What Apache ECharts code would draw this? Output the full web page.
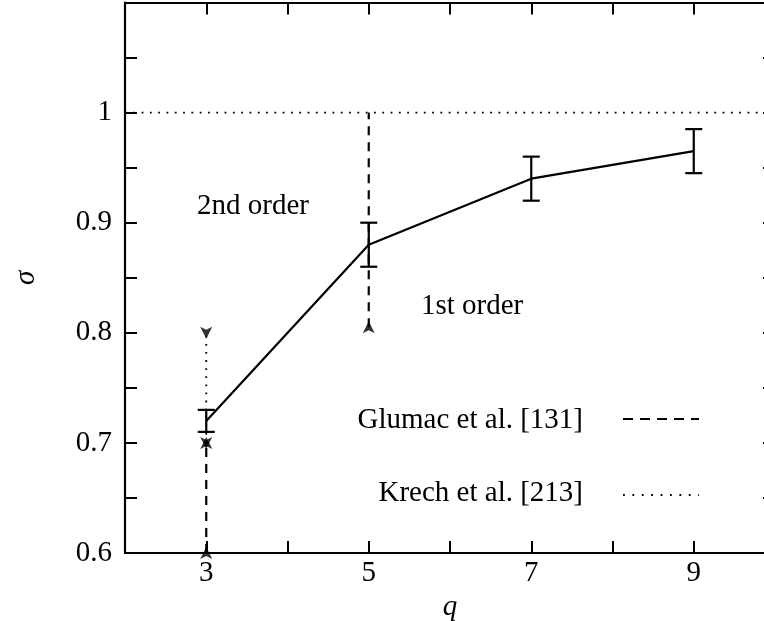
<!DOCTYPE html>
<html>
<head>
<meta charset="utf-8">
<script src="https://cdn.jsdelivr.net/npm/echarts@6/dist/echarts.min.js"></script>
<style>
  html, body { margin: 0; padding: 0; background: #fff; }
  #chart { width: 764px; height: 621px; }
</style>
</head>
<body>
<div id="chart"></div>
<script>
// Transition sharpness sigma versus number of states q
const qValues = [3, 5, 7, 9];
const sigmaValues = [0.72, 0.88, 0.94, 0.965];
const sigmaErrors = [0.01, 0.02, 0.02, 0.02];

// Literature estimates: [q, lower bound, upper bound, arrow at lower end, arrow at upper end]
const glumacRanges = [[3, 0.6, 0.7, true, true], [5, 0.805, 1.0, true, false]];
const krechRanges = [[3, 0.7, 0.8, true, true]];

const firstOrderLimit = 1.0;
const xRange = [2, 10];
const yRange = [0.6, 1.1];
const xTickLabels = [3, 5, 7, 9];
const yTickLabels = [0.6, 0.7, 0.8, 0.9, 1.0];

const FONT = '"Liberation Serif", "Times New Roman", serif';
const FS = 29;
const INK = '#000';

const chart = echarts.init(document.getElementById('chart'), null, { renderer: 'canvas' });

function axisCommon(extra) {
  return Object.assign({
    type: 'value',
    axisLine: { show: true, onZero: false, lineStyle: { color: INK, width: 2.2 } },
    axisTick: { show: true, inside: true, length: 12, lineStyle: { color: INK, width: 2 } },
    splitLine: { show: false },
    minorTick: { show: false }
  }, extra);
}

const xLabelFmt = v => (xTickLabels.indexOf(Math.round(v)) >= 0 ? String(Math.round(v)) : '');
const yLabelFmt = v => {
  const r = Math.round(v * 100) / 100;
  return yTickLabels.some(t => Math.abs(t - r) < 1e-6) ? (r === 1 ? '1' : r.toFixed(1)) : '';
};

const series = [];

// dotted line at sigma = 1
series.push({
  type: 'line', xAxisIndex: 0, yAxisIndex: 0, symbol: 'none', silent: true,
  data: [[xRange[0], firstOrderLimit], [xRange[1], firstOrderLimit]],
  lineStyle: { color: INK, width: 1.8, type: [1.8, 6.5] }
});

function addRanges(ranges, dash, width) {
  const arrows = [];
  ranges.forEach(r => {
    series.push({
      type: 'line', xAxisIndex: 0, yAxisIndex: 0, symbol: 'none', silent: true,
      data: [[r[0], r[1]], [r[0], r[2]]],
      lineStyle: { color: INK, width: width, type: dash }
    });
    if (r[3]) arrows.push({ value: [r[0], r[1]], symbolRotate: 0, symbolOffset: [0, -6] });
    if (r[4]) arrows.push({ value: [r[0], r[2]], symbolRotate: 180, symbolOffset: [0, 6] });
  });
  series.push({
    type: 'scatter', xAxisIndex: 0, yAxisIndex: 0, silent: true,
    symbol: 'arrow', symbolSize: [9, 12],
    itemStyle: { color: INK },
    data: arrows
  });
}
addRanges(glumacRanges, [9, 7], 2.2);
addRanges(krechRanges, [1.8, 6.3], 1.8);

// measured curve
series.push({
  type: 'line', xAxisIndex: 0, yAxisIndex: 0, symbol: 'none', silent: true,
  data: qValues.map((q, i) => [q, sigmaValues[i]]),
  lineStyle: { color: INK, width: 2.2 }
});

// error bars
series.push({
  type: 'custom', xAxisIndex: 0, yAxisIndex: 0, silent: true,
  data: qValues.map((q, i) => [q, sigmaValues[i] - sigmaErrors[i], sigmaValues[i] + sigmaErrors[i]]),
  renderItem: function (params, api) {
    const lo = api.coord([api.value(0), api.value(1)]);
    const hi = api.coord([api.value(0), api.value(2)]);
    const cap = 8.5;
    const st = { stroke: INK, lineWidth: 2.2 };
    return {
      type: 'group',
      children: [
        { type: 'line', shape: { x1: lo[0], y1: lo[1], x2: hi[0], y2: hi[1] }, style: st },
        { type: 'line', shape: { x1: lo[0] - cap, y1: lo[1], x2: lo[0] + cap, y2: lo[1] }, style: st },
        { type: 'line', shape: { x1: hi[0] - cap, y1: hi[1], x2: hi[0] + cap, y2: hi[1] }, style: st }
      ]
    };
  }
});

const textStyle = { fill: INK, font: FS + 'px ' + FONT };

chart.setOption({
  animation: false,
  backgroundColor: '#fff',
  grid: { left: 125, right: -11, top: 2.5, bottom: 68, containLabel: false, outerBoundsMode: 'none' },
  xAxis: [
    axisCommon({
      position: 'bottom', min: xRange[0], max: xRange[1], interval: 1,
      name: 'q', nameLocation: 'middle', nameGap: 30,
      nameTextStyle: { fontFamily: FONT, fontSize: FS, fontStyle: 'italic', color: INK },
      axisLabel: { show: true, formatter: xLabelFmt, margin: 6, fontFamily: FONT, fontSize: FS, color: INK, hideOverlap: false, showMinLabel: true, showMaxLabel: true }
    }),
    axisCommon({
      position: 'top', min: xRange[0], max: xRange[1], interval: 1,
      axisLabel: { show: false }
    })
  ],
  yAxis: [
    axisCommon({
      position: 'left', min: yRange[0], max: yRange[1], interval: 0.05,
      name: 'σ', nameLocation: 'middle', nameGap: 84, nameRotate: 90,
      nameTextStyle: { fontFamily: FONT, fontSize: FS, fontStyle: 'italic', color: INK },
      axisLabel: { show: true, formatter: yLabelFmt, margin: 13, fontFamily: FONT, fontSize: FS, color: INK, hideOverlap: false, showMinLabel: true, showMaxLabel: true }
    }),
    axisCommon({
      position: 'right', min: yRange[0], max: yRange[1], interval: 0.05,
      axisLabel: { show: false }
    })
  ],
  series: series,
  graphic: [
    { type: 'text', left: 197, top: 192, style: Object.assign({ text: '2nd order' }, textStyle), silent: true },
    { type: 'text', left: 421, top: 292, style: Object.assign({ text: '1st order' }, textStyle), silent: true },
    { type: 'text', x: 583, y: 420, style: Object.assign({ text: 'Glumac et al. [131]', textAlign: 'right', textVerticalAlign: 'middle' }, textStyle), silent: true },
    { type: 'text', x: 583, y: 493, style: Object.assign({ text: 'Krech et al. [213]', textAlign: 'right', textVerticalAlign: 'middle' }, textStyle), silent: true },
    { type: 'line', shape: { x1: 623, y1: 419, x2: 699, y2: 419 }, style: { stroke: INK, lineWidth: 2.2, lineDash: [10, 7] }, silent: true },
    { type: 'line', shape: { x1: 623, y1: 495, x2: 699, y2: 495 }, style: { stroke: INK, lineWidth: 1.8, lineDash: [1.8, 7.6] }, silent: true }
  ]
});
</script>
</body>
</html>
